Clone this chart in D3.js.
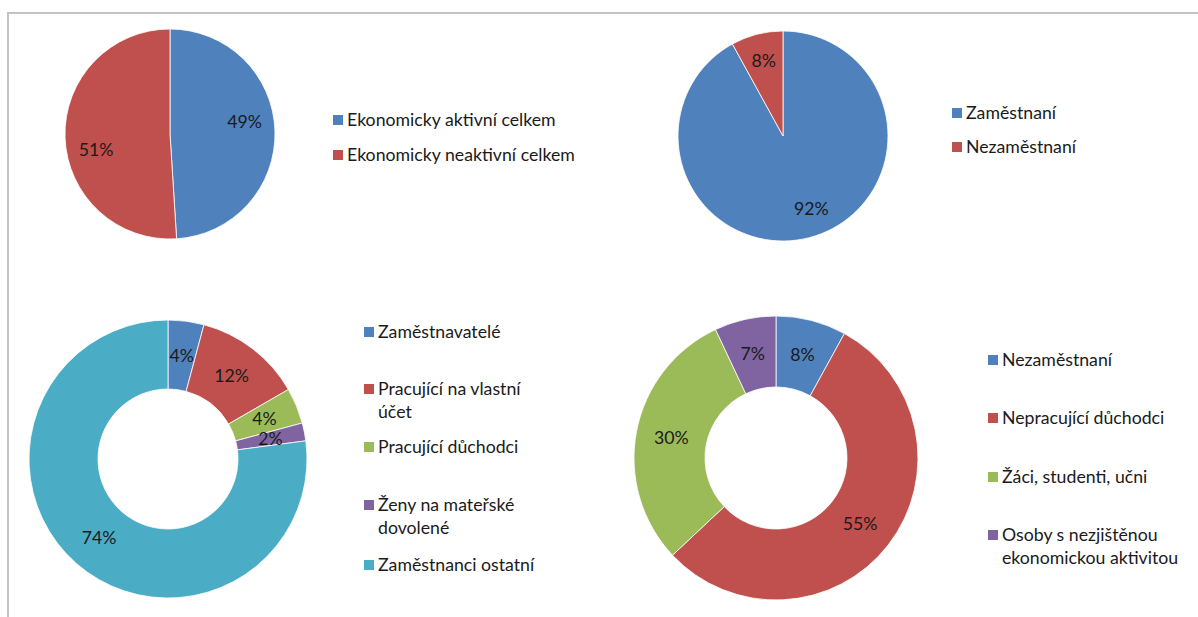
<!DOCTYPE html>
<html>
<head>
<meta charset="utf-8">
<script src="https://cdn.jsdelivr.net/npm/d3@7"></script>
<style>
  html, body { margin: 0; padding: 0; background: #fff; }
  svg { display: block; }
</style>
</head>
<body>
<svg id="chart" width="1198" height="617"></svg>
<script>
// ---- Data ----
const pie1Categories = ["Ekonomicky aktivní celkem", "Ekonomicky neaktivní celkem"];
const pie1Values = [49, 51];

const pie2Categories = ["Zaměstnaní", "Nezaměstnaní"];
const pie2Values = [92, 8];

const donut3Categories = ["Zaměstnavatelé", "Pracující na vlastní účet", "Pracující důchodci", "Ženy na mateřské dovolené", "Zaměstnanci ostatní"];
const donut3Values = [4, 12, 4, 2, 74];
const donut3LegendLines = [["Zaměstnavatelé"], ["Pracující na vlastní", "účet"], ["Pracující důchodci"], ["Ženy na mateřské", "dovolené"], ["Zaměstnanci ostatní"]];

const donut4Categories = ["Nezaměstnaní", "Nepracující důchodci", "Žáci, studenti, učni", "Osoby s nezjištěnou ekonomickou aktivitou"];
const donut4Values = [8, 55, 30, 7];
const donut4LegendLines = [["Nezaměstnaní"], ["Nepracující důchodci"], ["Žáci, studenti, učni"], ["Osoby s nezjištěnou", "ekonomickou aktivitou"]];

const paletteA = ["#4F81BD", "#C0504D"];
const paletteB = ["#4F81BD", "#C0504D", "#9BBB59", "#8064A2", "#4BACC6"];

// ---- Layout ----
const svg = d3.select("#chart");
const FONT = "Lato, 'Open Sans', sans-serif";

// fit font size so the reference legend string matches the reference width
const probe = svg.append("text").attr("font-family", FONT).attr("font-size", 100)
  .text("Ekonomicky neaktivní celkem");
const probeW = probe.node().getComputedTextLength();
probe.remove();
const FS = Math.round(228 / probeW * 100 * 10) / 10;

// frame lines
svg.append("line").attr("x1", 8).attr("y1", 13).attr("x2", 1198).attr("y2", 13)
  .attr("stroke", "#c3c3c3").attr("stroke-width", 2);
svg.append("line").attr("x1", 8).attr("y1", 12).attr("x2", 8).attr("y2", 617)
  .attr("stroke", "#c3c3c3").attr("stroke-width", 2);

const deg = Math.PI / 180;
const panels = [
  { cats: pie1Categories, vals: pie1Values, lines: pie1Categories.map(c => [c]), colors: paletteA,
    cx: 170, cy: 134, r: 105, inner: 0, labelR: 0.72, labelShift: [-8 * deg, -10 * deg],
    legendX: 333, legendY: [120, 155] },
  { cats: pie2Categories, vals: pie2Values, lines: pie2Categories.map(c => [c]), colors: paletteA,
    cx: 783, cy: 136, r: 105, inner: 0, labelR: 0.74, labelShift: [-7 * deg, 0],
    legendX: 952, legendY: [113, 147] },
  { cats: donut3Categories, vals: donut3Values, lines: donut3LegendLines, colors: paletteB,
    cx: 168, cy: 459, r: 139, inner: 70, labelR: null, labelShift: null,
    legendX: 364, legendY: [332, 389, 447, 505, 565] },
  { cats: donut4Categories, vals: donut4Values, lines: donut4LegendLines, colors: paletteB,
    cx: 776, cy: 458, r: 142, inner: 71, labelR: null, labelShift: null,
    legendX: 988, legendY: [360, 418, 477, 535] }
];

const lineH = 23;

panels.forEach(p => {
  const color = d3.scaleOrdinal().domain(p.cats).range(p.colors);
  const pie = d3.pie().sort(null).value(d => d.v);
  const data = pie(p.cats.map((c, i) => ({ c, v: p.vals[i] })));
  const arc = d3.arc().innerRadius(p.inner).outerRadius(p.r);
  const labelArc = p.labelR
    ? d3.arc().innerRadius(p.r * p.labelR).outerRadius(p.r * p.labelR)
    : d3.arc().innerRadius(p.inner).outerRadius(p.r);

  const g = svg.append("g").attr("transform", `translate(${p.cx},${p.cy})`);
  g.selectAll("path").data(data).join("path")
    .attr("d", arc)
    .attr("fill", d => color(d.data.c))
    .attr("stroke", "#ffffff")
    .attr("stroke-width", 0.8);

  g.selectAll("text").data(data).join("text")
    .attr("transform", (d, i) => {
      const s = p.labelShift ? p.labelShift[i] : 0;
      const dd = { ...d, startAngle: d.startAngle + s, endAngle: d.endAngle + s };
      return `translate(${labelArc.centroid(dd)})`;
    })
    .attr("text-anchor", "middle")
    .attr("dy", "0.36em")
    .attr("font-family", FONT)
    .attr("font-size", FS)
    .attr("fill", "#1a1a1a")
    .text(d => d.data.v + "%");

  // legend
  const lg = svg.append("g");
  p.cats.forEach((c, i) => {
    const y = p.legendY[i];
    lg.append("rect").attr("x", p.legendX).attr("y", y - 5).attr("width", 10).attr("height", 10)
      .attr("fill", color(c));
    const t = lg.append("text").attr("font-family", FONT).attr("font-size", FS).attr("fill", "#1a1a1a");
    p.lines[i].forEach((ln, j) => {
      t.append("tspan").attr("x", p.legendX + 14).attr("y", y + j * lineH).attr("dy", "0.36em").text(ln);
    });
  });
});
</script>
</body>
</html>
